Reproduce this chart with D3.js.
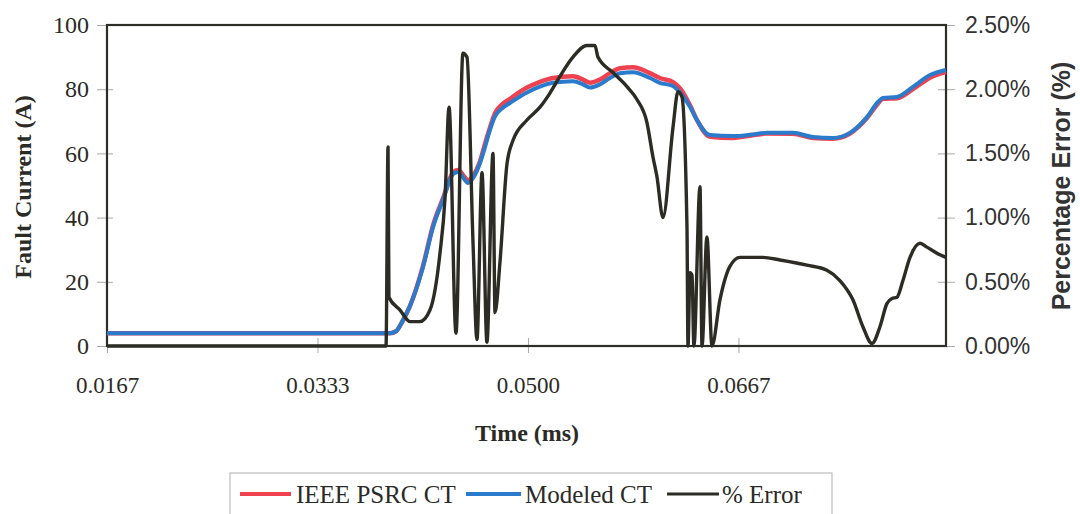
<!DOCTYPE html>
<html>
<head>
<meta charset="utf-8">
<script src="https://cdn.jsdelivr.net/npm/d3@7"></script>
<style>
  body { margin: 0; background: #fff; }
  svg { display: block; }
</style>
</head>
<body>
<svg id="chart" width="1080" height="514"></svg>
<script>
// Secondary current of the two CT models (A) over time (s)
const currentTime = [0.01667, 0.03907, 0.03955, 0.04010, 0.04066, 0.04169, 0.04248, 0.04327, 0.04406, 0.04446,
  0.04501, 0.04525, 0.04565, 0.04620, 0.04660, 0.04699, 0.04739, 0.04794, 0.04857, 0.04992,
  0.05095, 0.05198, 0.05356, 0.05435, 0.05491, 0.05570, 0.05649, 0.05728, 0.05831, 0.05966,
  0.06045, 0.06148, 0.06203, 0.06283, 0.06338, 0.06441, 0.06623, 0.06758, 0.06892, 0.07098,
  0.07257, 0.07415, 0.07550, 0.07684, 0.07771, 0.07811, 0.07922, 0.08048, 0.08183, 0.08310];
const ieeeCurrent = [4.0, 4.0, 4.6, 8.0, 12.5, 25.0, 37.5, 46.0, 54.0, 54.8,
  52.5, 51.5, 53.0, 57.5, 63.0, 68.0, 72.5, 75.2, 77.0, 80.5,
  82.3, 83.5, 84.0, 83.0, 82.0, 83.0, 85.0, 86.5, 86.8, 85.0,
  83.5, 82.2, 80.3, 75.0, 70.4, 65.2, 64.8, 65.5, 66.2, 66.1,
  64.8, 64.6, 66.2, 71.0, 75.5, 77.0, 77.2, 80.0, 83.6, 85.3];
const modeledCurrent = [4.0, 4.0, 4.6, 8.0, 12.5, 24.6, 37.0, 45.5, 53.5, 54.2,
  51.7, 50.8, 52.3, 57.0, 62.0, 67.3, 71.5, 74.0, 75.7, 79.0,
  80.8, 82.0, 82.5, 81.5, 80.5, 81.5, 83.5, 85.0, 85.3, 83.5,
  82.0, 81.0, 79.0, 74.5, 70.4, 65.7, 65.4, 65.8, 66.4, 66.4,
  65.1, 64.8, 66.4, 71.3, 76.0, 77.3, 77.6, 80.7, 84.4, 86.0];

// Percentage error between the two models (%)
const errorTime = [0.01667, 0.03876, 0.03892, 0.03899, 0.03987, 0.04066, 0.04145, 0.04224, 0.04303, 0.04343,
  0.04375, 0.04430, 0.04485, 0.04517, 0.04565, 0.04596, 0.04636, 0.04675, 0.04723, 0.04739,
  0.04778, 0.04834, 0.04881, 0.04992, 0.05095, 0.05174, 0.05253, 0.05356, 0.05467, 0.05530,
  0.05554, 0.05673, 0.05784, 0.05863, 0.05942, 0.05990, 0.06021, 0.06069, 0.06148, 0.06188,
  0.06219, 0.06259, 0.06267, 0.06283, 0.06299, 0.06314, 0.06362, 0.06378, 0.06417, 0.06457,
  0.06520, 0.06599, 0.06679, 0.06861, 0.06995, 0.07209, 0.07367, 0.07470, 0.07573, 0.07652,
  0.07724, 0.07787, 0.07842, 0.07882, 0.07922, 0.07969, 0.08025, 0.08104, 0.08159, 0.08262, 0.08310];
const errorPct = [0, 0, 1.55, 0.38, 0.28, 0.19, 0.19, 0.28, 0.72, 1.15,
  1.86, 0.10, 2.28, 2.25, 0.80, 0.05, 1.35, 0.03, 1.50, 0.26,
  0.65, 1.42, 1.60, 1.76, 1.86, 1.97, 2.10, 2.25, 2.34, 2.34,
  2.25, 2.13, 2.02, 1.92, 1.74, 1.47, 1.32, 1.00, 1.70, 1.98,
  1.94, 0.93, 0, 0.57, 0.55, 0, 1.24, 0, 0.85, 0,
  0.36, 0.62, 0.69, 0.69, 0.67, 0.63, 0.59, 0.51, 0.36, 0.15,
  0.02, 0.15, 0.33, 0.37, 0.38, 0.51, 0.69, 0.80, 0.77, 0.71, 0.69];

const timeTicks = [1 / 60, 2 / 60, 3 / 60, 4 / 60];
const timeTickLabels = ["0.0167", "0.0333", "0.0500", "0.0667"];
const currentTicks = [0, 20, 40, 60, 80, 100];
const errorTicks = [0, 0.5, 1.0, 1.5, 2.0, 2.5];
const seriesNames = ["IEEE PSRC CT", "Modeled CT", "% Error"];

const plot = { left: 107, right: 946, top: 25, bottom: 346 };
const colors = { ieee: "#ee4250", modeled: "#2a7bcc", error: "#2c2c24" };
const serif = "'Liberation Serif', 'Times New Roman', serif";
const sans = "'Liberation Sans', Arial, sans-serif";
const ink = "#2b2b26";

const svg = d3.select("#chart");

const x = d3.scaleLinear().domain([1 / 60, 0.0831]).range([plot.left, plot.right]);
const yCur = d3.scaleLinear().domain([0, 100]).range([plot.bottom, plot.top]);
const yErr = d3.scaleLinear().domain([0, 2.5]).range([plot.bottom, plot.top]);

// Left axis (current)
const gLeft = svg.append("g").attr("transform", `translate(${plot.left},0)`)
  .call(d3.axisLeft(yCur).tickValues(currentTicks).tickSize(10).tickPadding(8));
gLeft.select(".domain").remove();
gLeft.selectAll("line").attr("x1", 6).attr("stroke", "#aaa");
gLeft.selectAll("text").attr("x", -18).attr("font-family", serif).attr("font-size", 24).attr("fill", ink);

// Right axis (percentage error)
const gRight = svg.append("g").attr("transform", `translate(${plot.right},0)`)
  .call(d3.axisRight(yErr).tickValues(errorTicks).tickSize(9).tickFormat(d => d.toFixed(2) + "%"));
gRight.select(".domain").remove();
gRight.selectAll("line").attr("x1", -8).attr("stroke", "#aaa");
gRight.selectAll("text").attr("x", 19).attr("font-family", sans).attr("font-size", 23).attr("fill", "#333");

// Bottom axis (time)
const gBottom = svg.append("g").attr("transform", `translate(0,${plot.bottom})`)
  .call(d3.axisBottom(x).tickValues(timeTicks).tickSize(7).tickFormat((d, i) => timeTickLabels[i]));
gBottom.select(".domain").remove();
gBottom.selectAll("line").attr("y1", -8).attr("stroke", "#aaa");
gBottom.selectAll("text").attr("y", 31).attr("font-family", serif).attr("font-size", 23).attr("fill", ink);

// Plot frame
svg.append("rect")
  .attr("x", plot.left).attr("y", plot.top)
  .attr("width", plot.right - plot.left).attr("height", plot.bottom - plot.top)
  .attr("fill", "none").attr("stroke", "#2e2e28").attr("stroke-width", 2.2);

// Series
const curLine = vals => d3.line()
  .x((d, i) => x(currentTime[i]))
  .y((d, i) => yCur(vals[i]))
  .curve(d3.curveMonotoneX)(vals);

svg.append("path").attr("d", curLine(ieeeCurrent))
  .attr("fill", "none").attr("stroke", colors.ieee).attr("stroke-width", 4.5).attr("stroke-linejoin", "round");
svg.append("path").attr("d", curLine(modeledCurrent))
  .attr("fill", "none").attr("stroke", colors.modeled).attr("stroke-width", 4).attr("stroke-linejoin", "round");

const errLine = d3.line()
  .x((d, i) => x(errorTime[i]))
  .y((d, i) => yErr(errorPct[i]))
  .curve(d3.curveMonotoneX);
svg.append("path").attr("d", errLine(errorPct))
  .attr("fill", "none").attr("stroke", colors.error).attr("stroke-width", 3.4).attr("stroke-linejoin", "round");

// Axis titles
svg.append("text")
  .attr("transform", "translate(31,187) rotate(-90)")
  .attr("text-anchor", "middle").attr("font-family", serif).attr("font-weight", "bold")
  .attr("font-size", 24).attr("fill", ink).text("Fault Current (A)");
svg.append("text")
  .attr("transform", "translate(1070,186) rotate(-90)")
  .attr("text-anchor", "middle").attr("font-family", sans).attr("font-weight", "bold")
  .attr("font-size", 25).attr("fill", "#333").text("Percentage Error (%)");
svg.append("text")
  .attr("x", 527).attr("y", 441)
  .attr("text-anchor", "middle").attr("font-family", serif).attr("font-weight", "bold")
  .attr("font-size", 24).attr("fill", ink).text("Time (ms)");

// Legend
const legend = svg.append("g");
legend.append("rect").attr("x", 230).attr("y", 473).attr("width", 602).attr("height", 60)
  .attr("fill", "#fff").attr("stroke", "#bdbdbd").attr("stroke-width", 1.2);
const legendItems = [
  { name: seriesNames[0], color: colors.ieee, w: 4, x0: 240, x1: 291, tx: 296 },
  { name: seriesNames[1], color: colors.modeled, w: 4, x0: 466, x1: 521, tx: 525 },
  { name: seriesNames[2], color: colors.error, w: 3.2, x0: 667, x1: 719, tx: 722 }
];
legendItems.forEach(it => {
  legend.append("line").attr("x1", it.x0).attr("x2", it.x1).attr("y1", 494).attr("y2", 494)
    .attr("stroke", it.color).attr("stroke-width", it.w);
  legend.append("text").attr("x", it.tx).attr("y", 503)
    .attr("font-family", serif).attr("font-size", 25).attr("fill", ink).text(it.name);
});
</script>
</body>
</html>
